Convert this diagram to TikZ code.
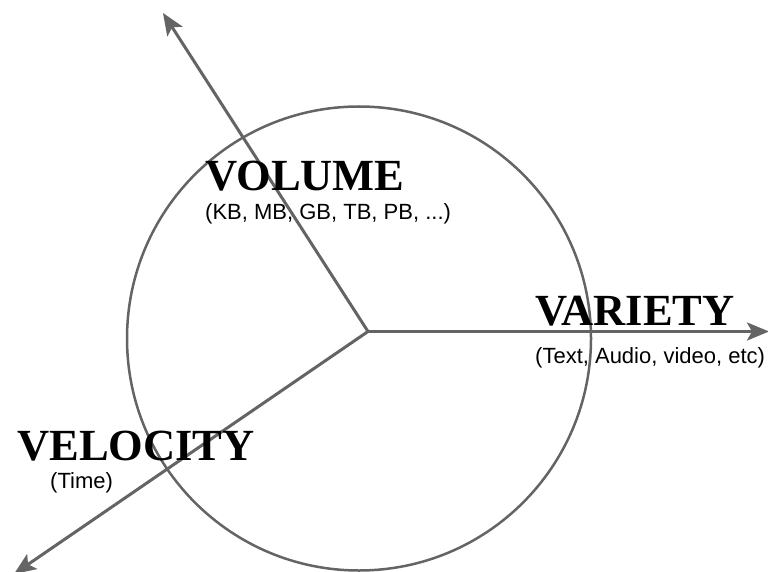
\documentclass[tikz,border=0pt]{standalone}
\usepackage{fontspec}
\setmainfont{Liberation Serif}
\setsansfont{Liberation Sans}
\usetikzlibrary{arrows.meta}
\definecolor{linegray}{RGB}{100,100,100}
\tikzset{
  axis/.style={draw=linegray, line width=3pt, -{Stealth[length=22pt,width=18pt,inset=5pt]}},
  ring/.style={draw=linegray, line width=2.5pt},
  title/.style={anchor=base west, inner sep=0pt, font=\fontsize{44.5}{44.5}\selectfont\bfseries},
  sub/.style={anchor=base west, inner sep=0pt, font=\fontsize{22}{22}\selectfont\sffamily}
}
\begin{document}
\begin{tikzpicture}[x=1pt,y=-1pt]
\useasboundingbox (0,0) rectangle (768,572);
\node[ring, circle, minimum size=464pt, inner sep=0pt] (c) at (359,338.5) {};
\coordinate (hub) at (368,331.5);
\coordinate (tl) at (163,13);
\coordinate (rt) at (769,331.5);
\coordinate (bl) at (14,574);
\draw[axis] (hub) -- (tl);
\draw[axis] (hub) -- (rt);
\draw[axis] (hub) -- (bl);
\node[title] (vol) at (205,190) {VOLUME};
\node[sub] (volsub) at (205,219) {(KB, MB, GB, TB, PB, ...)};
\node[title] (var) at (535,325) {VARIETY};
\node[sub] (varsub) at (535,363) {(Text, Audio, video, etc)};
\node[title] (vel) at (17,460) {VELOCITY};
\node[sub] (velsub) at (50,488) {(Time)};
\end{tikzpicture}
\end{document}
